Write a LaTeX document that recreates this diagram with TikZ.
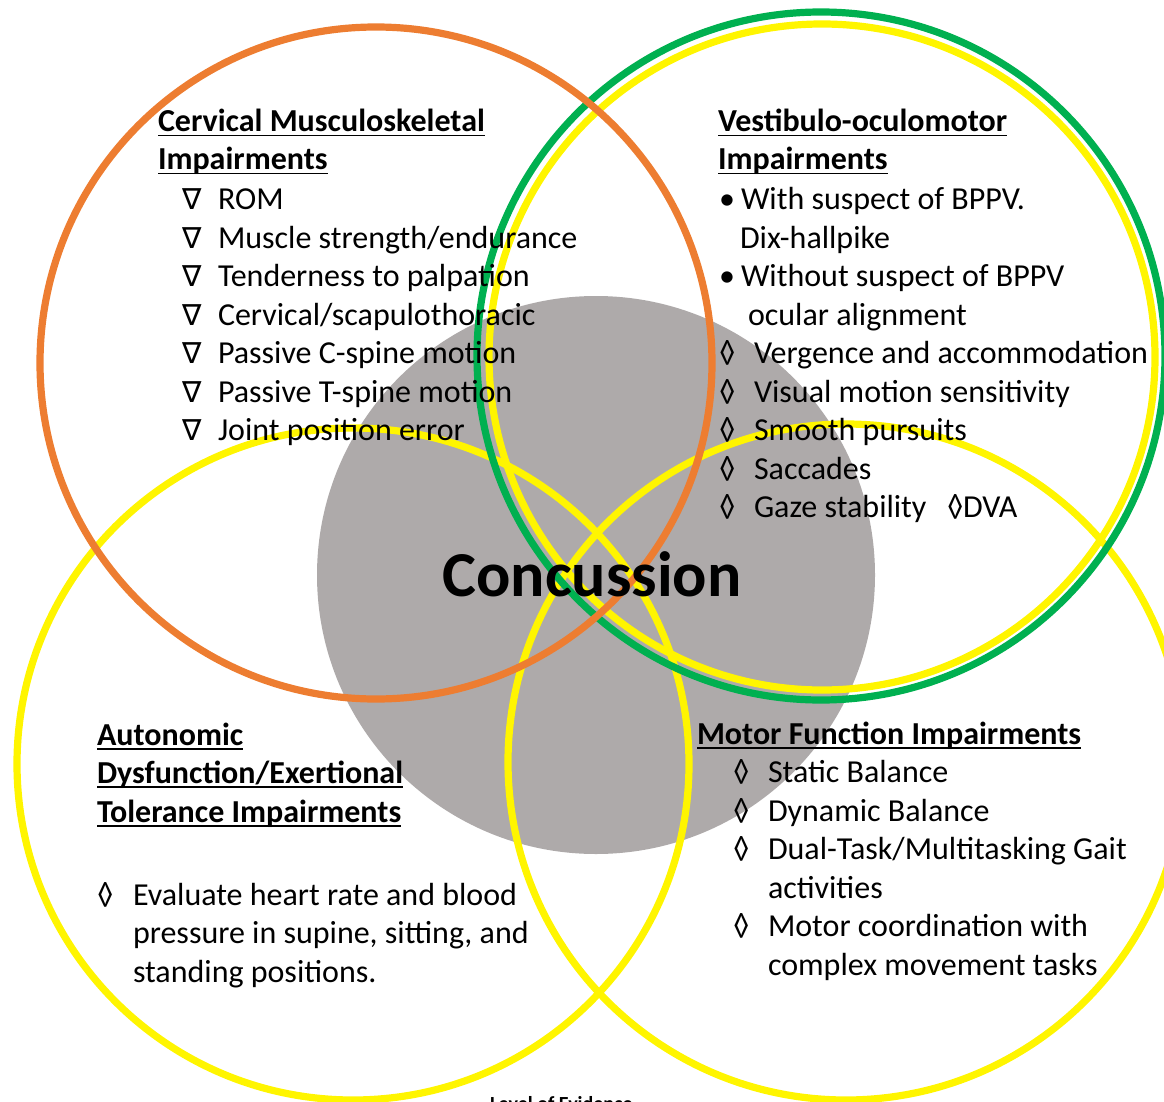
\documentclass[tikz,border=0pt]{standalone}
\usepackage{fontspec}
\setmainfont{Carlito}
\newfontfamily\symf{DejaVu Sans}
\definecolor{ringorange}{HTML}{ED7D31}
\definecolor{ringgreen}{HTML}{00B050}
\definecolor{ringyellow}{HTML}{FFF500}
\definecolor{coregray}{HTML}{AEAAAA}
\newcommand\ulx[1]{\setbox0\hbox{#1}\rlap{\rule[-4.5pt]{\wd0}{1.8pt}}\box0}
\tikzset{
  txt/.style={anchor=base west, inner sep=0pt, outer sep=0pt, font=\fontsize{32}{38}\selectfont},
  hd/.style={txt, font=\fontsize{32}{38}\selectfont\bfseries},
  tri/.style={anchor=base west, inner sep=0pt, font=\symf\fontsize{29}{34}\selectfont},
  loz/.style={anchor=base west, inner sep=0pt, font=\fontsize{32}{38}\selectfont},
  ring/.style={line width=7.2pt},
}
\begin{document}
\begin{tikzpicture}[x=1pt,y=-1pt]
\useasboundingbox (0,0) rectangle (1164,1102);
% core
\fill[coregray] (596,575) circle[radius=279pt];
% rings
\draw[ring, ringyellow] (353,764) circle[radius=336pt];
\draw[ring, ringyellow] (846,762) circle[radius=338pt];
\draw[ring, ringgreen] (821,356) circle[radius=344pt];
\draw[ring, ringyellow] (822,357) circle[radius=333pt];
\draw[ring, ringorange] (376,363) circle[radius=336pt];

\begin{scope}[yshift=-2pt]
% Cervical
\node[hd] (cvh1) at (158,130) {\ulx{Cervical Musculoskeletal}};
\node[hd] (cvh2) at (158,168) {\ulx{Impairments}};
\foreach \t [count=\i] in {ROM, Muscle strength/endurance, Tenderness to palpation, Cervical/scapulothoracic, Passive C-spine motion, Passive T-spine motion, Joint position error} {
  \node[tri] (cvs\i) at (182,{169+38.5*\i}) {∇};
  \node[txt] (cvt\i) at (218,{169+38.5*\i}) {\t};
}

% Vestibulo-oculomotor
\node[hd] (vsh1) at (718,130) {\ulx{Vestibulo-oculomotor}};
\node[hd] (vsh2) at (718,168) {\ulx{Impairments}};
\node[txt] (vsb1) at (719,207.5) {•};
\node[txt] (vst1) at (741,207.5) {With suspect of BPPV.};
\node[txt] (vst2) at (740,246) {Dix-hallpike};
\node[txt] (vsb3) at (719,284.5) {•};
\node[txt] (vst3) at (741,284.5) {Without suspect of BPPV};
\node[txt] (vst4) at (748,323) {ocular alignment};
\foreach \t [count=\i] in {Vergence and accommodation, Visual motion sensitivity, Smooth pursuits, Saccades, Gaze stability} {
  \node[loz] (vsd\i) at (719,{323+38.5*\i}) {◊};
  \node[txt] (vsi\i) at (754,{323+38.5*\i}) {\t};
}
\node[loz] (dvad) at (947,515.5) {◊};
\node[txt] (dva) at (963,515.5) {DVA};

% Autonomic
\node[hd] (auh1) at (97,743) {\ulx{Autonomic}};
\node[hd] (auh2) at (97,781.5) {\ulx{Dysfunction/Exertional}};
\node[hd] (auh3) at (97,820) {\ulx{Tolerance Impairments}};
\node[loz] (aud) at (97,903) {◊};
\node[txt] (aut1) at (133,903) {Evaluate heart rate and blood};
\node[txt] (aut2) at (133,941.5) {pressure in supine, sitting, and};
\node[txt] (aut3) at (133,980) {standing positions.};

% Motor
\node[hd] (moh) at (697,742) {\ulx{Motor Function Impairments}};
\node[loz] (mod1) at (733,780.5) {◊};
\node[txt] (mot1) at (768,780.5) {Static Balance};
\node[loz] (mod2) at (733,819) {◊};
\node[txt] (mot2) at (768,819) {Dynamic Balance};
\node[loz] (mod3) at (733,857.5) {◊};
\node[txt] (mot3) at (768,857.5) {Dual-Task/Multitasking Gait};
\node[txt] (mot3b) at (768,896) {activities};
\node[loz] (mod4) at (733,934.5) {◊};
\node[txt] (mot4) at (768,934.5) {Motor coordination with};
\node[txt] (mot4b) at (768,973) {complex movement tasks};

% Center
\node[anchor=base, inner sep=0pt, font=\fontsize{64}{72}\selectfont\bfseries] (conc) at (592,594) {Concussion};
\end{scope}

% cut-off caption
\node[anchor=base west, inner sep=0pt, font=\fontsize{20}{24}\selectfont\bfseries] (loe) at (490,1110) {Level of Evidence};
\end{tikzpicture}
\end{document}
